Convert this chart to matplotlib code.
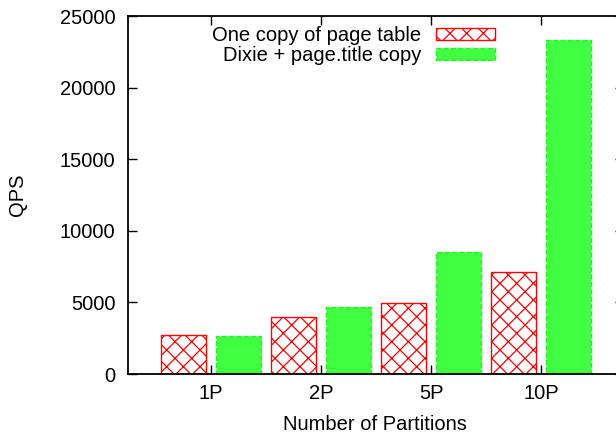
import matplotlib.pyplot as plt
import numpy as np

plt.rcParams['font.family'] = ['Liberation Sans', 'DejaVu Sans']
plt.rcParams['hatch.linewidth'] = 0.9

partitions = ['1P', '2P', '5P', '10P']
one_copy = [2750, 3950, 4950, 7100]
dixie = [2650, 4650, 8500, 23300]


def main():
    fig = plt.figure(figsize=(6.16, 4.33), dpi=100)
    # plot frame runs slightly past the right edge of the canvas
    ax = fig.add_axes([128 / 616, 59 / 433, 496 / 616, 358 / 433])

    x = np.arange(1, len(partitions) + 1)
    w = 0.41
    ax.bar(x - 0.25, one_copy, w, facecolor='white', edgecolor='#ff0000',
           hatch='xx', linewidth=1.0, label='One copy of page table')
    ax.bar(x + 0.25, dixie, w, facecolor='#40ff40', edgecolor='#28f028',
           linestyle='--', linewidth=1.0, label='Dixie + page.title copy')

    ax.set_xlim(0.25, 4.75)
    ax.set_ylim(0, 25000)
    ax.set_xticks(x, labels=partitions)
    ax.set_yticks(np.arange(0, 25001, 5000))
    ax.tick_params(direction='in', length=6.5, width=1.0, labelsize=14.5,
                   top=True, right=True)
    ax.tick_params(axis='x', pad=7)
    ax.tick_params(axis='y', pad=9)
    for s in ax.spines.values():
        s.set_linewidth(1.3)

    fig.text(375 / 616, 1 - 424 / 433, 'Number of Partitions', fontsize=14.5,
             ha='center', va='center')
    fig.text(17 / 616, 1 - 195 / 433, 'QPS', fontsize=14.5, rotation=90,
             ha='center', va='center')

    ax.legend(loc='upper right', bbox_to_anchor=(495 / 616, 1 - 26 / 433),
              bbox_transform=fig.transFigure, frameon=False, markerfirst=False,
              fontsize=14.5, handlelength=2.95, handleheight=0.58,
              handletextpad=0.7, labelspacing=0.05, borderpad=0,
              borderaxespad=0)

    plt.savefig('out.png', dpi=100)


if __name__ == '__main__':
    main()
